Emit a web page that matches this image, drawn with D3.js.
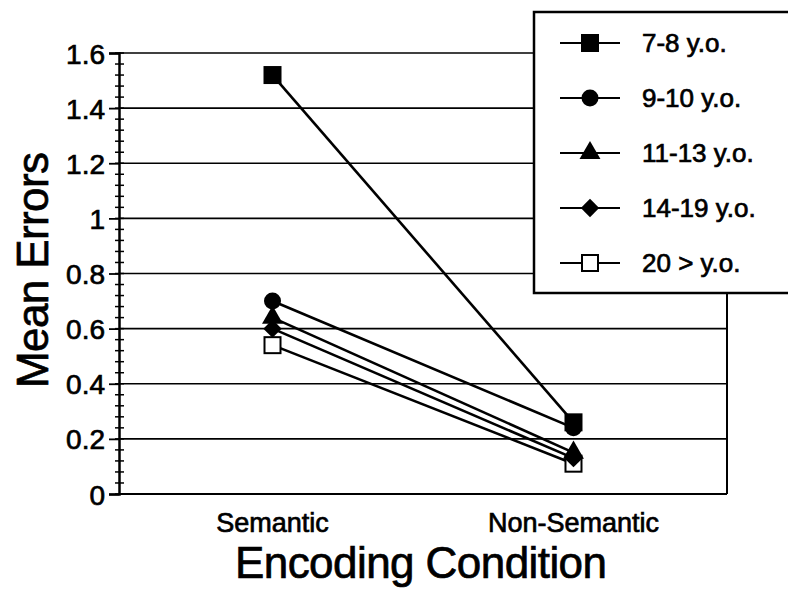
<!DOCTYPE html>
<html>
<head>
<meta charset="utf-8">
<script src="https://cdn.jsdelivr.net/npm/d3@7"></script>
<style>
  body { margin: 0; background: #fff; }
  text { font-family: "Liberation Sans", Arial, Helvetica, sans-serif; fill: #000; stroke: #000; stroke-width: 0.7px; }
</style>
</head>
<body>
<script>
var conditions = ['Semantic', 'Non-Semantic'];
var groups = ['7-8 y.o.', '9-10 y.o.', '11-13 y.o.', '14-19 y.o.', '20 > y.o.'];
var shapes = ['square', 'circle', 'triangle', 'diamond', 'openSquare'];
var age78 = [1.52, 0.26];
var age910 = [0.70, 0.24];
var age1113 = [0.64, 0.15];
var age1419 = [0.60, 0.13];
var age20 = [0.54, 0.11];
var yTicks = [0, 0.2, 0.4, 0.6, 0.8, 1, 1.2, 1.4, 1.6];

var series = [age78, age910, age1113, age1419, age20];

var svgWidth = 788;
var svgHeight = 593;
var plotLeft = 119, plotRight = 727, plotTop = 53, plotBottom = 494;

var svg = d3.select('body').append('svg')
  .attr('width', svgWidth)
  .attr('height', svgHeight);

var xScale = d3.scalePoint()
  .domain(conditions)
  .range([plotLeft, plotRight])
  .padding(0.51);

var yScale = d3.scaleLinear()
  .domain([0, 1.6])
  .range([plotBottom, plotTop]);

// grid lines
svg.append('g')
  .selectAll('line')
  .data(yTicks.slice(1))
  .enter()
  .append('line')
    .attr('x1', plotLeft)
    .attr('x2', plotRight)
    .attr('y1', function(d) { return yScale(d); })
    .attr('y2', function(d) { return yScale(d); })
    .attr('stroke', '#000')
    .attr('stroke-width', 1.6);

// right border + bottom
svg.append('line')
  .attr('x1', plotRight).attr('x2', plotRight)
  .attr('y1', plotTop).attr('y2', plotBottom)
  .attr('stroke', '#000').attr('stroke-width', 2);
svg.append('line')
  .attr('x1', plotLeft).attr('x2', plotRight)
  .attr('y1', plotBottom).attr('y2', plotBottom)
  .attr('stroke', '#000').attr('stroke-width', 2);

// minor ticks
svg.append('g')
  .selectAll('line')
  .data(d3.range(0, 1.601, 0.04))
  .enter()
  .append('line')
    .attr('x1', plotLeft - 4)
    .attr('x2', plotLeft + 5)
    .attr('y1', function(d) { return yScale(d); })
    .attr('y2', function(d) { return yScale(d); })
    .attr('stroke', '#000')
    .attr('stroke-width', 1.5);

var y_axis = d3.axisLeft(yScale)
  .tickValues(yTicks)
  .tickSize(10)
  .tickPadding(4)
  .tickFormat(function(d) { return String(d); });

var yg = svg.append('g')
  .attr('transform', 'translate(' + plotLeft + ',0)')
  .call(y_axis);
yg.select('.domain').attr('stroke-width', 2.5);
yg.selectAll('.tick line').attr('stroke-width', 1.8);
yg.selectAll('.tick text')
  .attr('font-size', 28)
  .attr('dy', '0.36em')
  .style('font-family', '"Liberation Sans", Arial, sans-serif');

// category labels
svg.append('g')
  .selectAll('text')
  .data(conditions)
  .enter()
  .append('text')
    .attr('x', function(d) { return xScale(d); })
    .attr('y', 532)
    .attr('text-anchor', 'middle')
    .attr('font-size', 27)
    .text(function(d) { return d; });

svg.append('text')
  .attr('x', 421)
  .attr('y', 578)
  .attr('text-anchor', 'middle')
  .attr('font-size', 44)
  .attr('textLength', 372)
  .attr('lengthAdjust', 'spacing')
  .text('Encoding Condition');

svg.append('text')
  .attr('transform', 'translate(48,270) rotate(-90)')
  .attr('text-anchor', 'middle')
  .attr('font-size', 44)
  .attr('textLength', 236)
  .attr('lengthAdjust', 'spacing')
  .text('Mean Errors');

function drawMarker(g, shape, x, y) {
  if (shape === 'square' || shape === 'openSquare') {
    g.append('rect')
      .attr('x', x - 8).attr('y', y - 8)
      .attr('width', 16).attr('height', 16)
      .attr('fill', shape === 'square' ? '#000' : '#fff')
      .attr('stroke', '#000')
      .attr('stroke-width', 2);
  } else if (shape === 'circle') {
    g.append('circle')
      .attr('cx', x).attr('cy', y).attr('r', 8.5)
      .attr('fill', '#000');
  } else if (shape === 'diamond') {
    g.append('rect')
      .attr('x', -6.5).attr('y', -6.5)
      .attr('width', 13).attr('height', 13)
      .attr('transform', 'translate(' + x + ',' + y + ') rotate(45)')
      .attr('fill', '#000');
  } else {
    g.append('path')
      .attr('d', d3.symbol().type(d3.symbolTriangle).size(190)())
      .attr('transform', 'translate(' + x + ',' + y + ')')
      .attr('fill', '#000');
  }
}

var lineFunction = d3.line()
  .x(function(d, i) { return xScale(conditions[i]); })
  .y(function(d) { return yScale(d); });

var lines = svg.append('g');
series.forEach(function(vals) {
  lines.append('path')
    .attr('d', lineFunction(vals))
    .attr('stroke', '#000')
    .attr('stroke-width', 2.6)
    .attr('fill', 'none');
});

// draw markers from back to front so upper series sit on top
var marks = svg.append('g');
for (var s = series.length - 1; s >= 0; s--) {
  series[s].forEach(function(v, i) {
    drawMarker(marks, shapes[s], xScale(conditions[i]), yScale(v));
  });
}

// legend
var legend = svg.append('g');
legend.append('rect')
  .attr('x', 534).attr('y', 12)
  .attr('width', 270).attr('height', 281)
  .attr('fill', '#fff')
  .attr('stroke', '#000')
  .attr('stroke-width', 2.5);

var legendY = d3.scalePoint()
  .domain(groups)
  .range([43, 263]);

groups.forEach(function(name, i) {
  var y = legendY(name);
  legend.append('line')
    .attr('x1', 560).attr('x2', 620)
    .attr('y1', y).attr('y2', y)
    .attr('stroke', '#000')
    .attr('stroke-width', 2.2);
  drawMarker(legend, shapes[i], 590, y);
  legend.append('text')
    .attr('x', 642)
    .attr('y', y + 9)
    .attr('font-size', 26)
    .text(name);
});
</script>
</body>
</html>
